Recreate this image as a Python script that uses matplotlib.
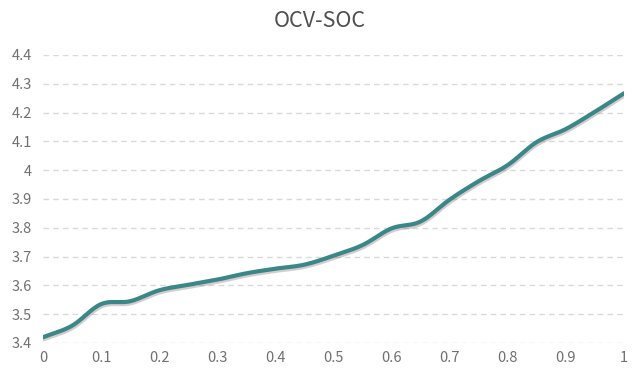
import numpy as np
import matplotlib
matplotlib.use("Agg")
import matplotlib.pyplot as plt
import matplotlib.patheffects as pe

plt.rcParams['font.family'] = ['Noto Sans CJK SC', 'DejaVu Sans']

soc = [0.0, 0.05, 0.1, 0.15, 0.2, 0.25, 0.3, 0.35, 0.4, 0.45, 0.5,
       0.55, 0.6, 0.65, 0.7, 0.75, 0.8, 0.85, 0.9, 0.95, 1.0]
ocv = [3.42, 3.46, 3.535, 3.545, 3.583, 3.602, 3.62, 3.642, 3.658, 3.672, 3.703,
       3.740, 3.798, 3.822, 3.898, 3.962, 4.018, 4.098, 4.143, 4.203, 4.267]
x_ticks = [0, 0.1, 0.2, 0.3, 0.4, 0.5, 0.6, 0.7, 0.8, 0.9, 1]
x_labels = ['0', '0.1', '0.2', '0.3', '0.4', '0.5', '0.6', '0.7', '0.8', '0.9', '1']
y_ticks = [3.4, 3.5, 3.6, 3.7, 3.8, 3.9, 4.0, 4.1, 4.2, 4.3, 4.4]
y_labels = ['3.4', '3.5', '3.6', '3.7', '3.8', '3.9', '4', '4.1', '4.2', '4.3', '4.4']


def catmull_rom(x, y, n=20):
    x = np.asarray(x, float)
    y = np.asarray(y, float)
    px = np.concatenate([[2 * x[0] - x[1]], x, [2 * x[-1] - x[-2]]])
    py = np.concatenate([[2 * y[0] - y[1]], y, [2 * y[-1] - y[-2]]])
    xs, ys = [], []
    t = np.linspace(0, 1, n, endpoint=False)
    for i in range(1, len(px) - 2):
        for arr, out in ((px, xs), (py, ys)):
            p0, p1, p2, p3 = arr[i - 1], arr[i], arr[i + 1], arr[i + 2]
            out.extend(0.5 * ((2 * p1) + (-p0 + p2) * t +
                              (2 * p0 - 5 * p1 + 4 * p2 - p3) * t ** 2 +
                              (-p0 + 3 * p1 - 3 * p2 + p3) * t ** 3))
    xs.append(x[-1])
    ys.append(y[-1])
    return np.array(xs), np.array(ys)


fig = plt.figure(figsize=(6.4, 3.76), dpi=100)
ax = fig.add_axes([43 / 640, 1 - 343 / 376, (624 - 43) / 640, (343 - 55) / 376])

sx, sy = catmull_rom(soc, ocv)
ax.plot(sx, sy, color='#3a8787', lw=3.0, solid_capstyle='round', zorder=3,
        path_effects=[pe.SimpleLineShadow(offset=(0.5, -1.5), shadow_color='#8a6f7a', alpha=0.35),
                      pe.Normal()])

ax.set_xlim(0, 1)
ax.set_ylim(3.4, 4.4)
ax.set_xticks(x_ticks)
ax.set_xticklabels(x_labels)
ax.set_yticks(y_ticks)
ax.set_yticklabels(y_labels)
ax.grid(axis='y', color='#d9d9d9', linestyle=(0, (4, 3)), lw=1)
ax.grid(axis='x', visible=False)
for s in ax.spines.values():
    s.set_visible(False)
ax.tick_params(length=0, labelsize=10.5, colors='#707070')
ax.tick_params(axis='x', pad=6)
ax.tick_params(axis='y', pad=8)
ax.set_axisbelow(True)

fig.text(0.5, 1 - 21 / 376, 'OCV-SOC', ha='center', va='center', fontsize=15.5, color='#505050')

fig.savefig('out.png', dpi=100, facecolor='white')
